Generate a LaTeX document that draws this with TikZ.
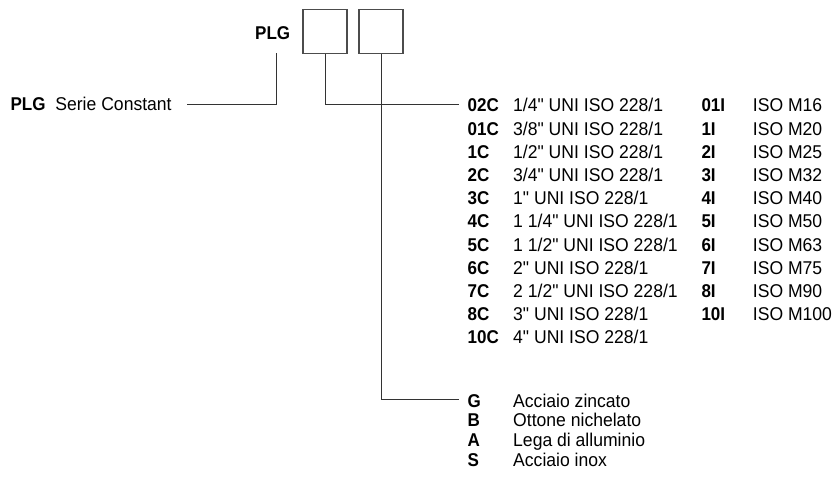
\documentclass[tikz,border=0pt]{standalone}
\usepackage{fontspec}
\setmainfont{Liberation Sans}[Ligatures=TeXOff,FakeStretch=0.95,BoldFeatures={FakeStretch=0.92}]
\newcommand{\qd}{\symbol{34}}
\begin{document}
\begin{tikzpicture}[x=1pt,y=-1pt,
  lab/.style={anchor=base west,inner sep=0pt,font=\fontsize{18.5}{21}\selectfont\bfseries},
  desc/.style={anchor=base west,inner sep=0pt,font=\fontsize{18.5}{21}\selectfont},
  conn/.style={draw=black!80,line width=1pt},
  codebox/.style={draw=black!70,line width=1.2pt,minimum width=44pt,minimum height=43.5pt,inner sep=0pt}]
\useasboundingbox (0,0) rectangle (832,479);
% top code
\node[lab] (plgtop) at (255,39.9) {PLG};
\node[codebox] (b1) at (325,31.5) {};
\node[codebox] (b2) at (381,31.5) {};
% left description
\node[lab] (plgleft) at (10.3,110.9) {PLG};
\node[desc] (serie) at (55.2,110.9) {Serie Constant};
% C list
\foreach \c/\d [count=\i from 0] in {02C/{1/4\qd{} UNI ISO 228/1},01C/{3/8\qd{} UNI ISO 228/1},1C/{1/2\qd{} UNI ISO 228/1},2C/{3/4\qd{} UNI ISO 228/1},3C/{1\qd{} UNI ISO 228/1},4C/{1 1/4\qd{} UNI ISO 228/1},5C/{1 1/2\qd{} UNI ISO 228/1},6C/{2\qd{} UNI ISO 228/1},7C/{2 1/2\qd{} UNI ISO 228/1},8C/{3\qd{} UNI ISO 228/1},10C/{4\qd{} UNI ISO 228/1}}{
  \node[lab] (cl\i) at (467.5,{111.9+23.2*\i}) {\c};
  \node[desc] (cd\i) at (513,{111.9+23.2*\i}) {\d};
}
% I list
\foreach \c/\d [count=\i from 0] in {01I/ISO M16,1I/ISO M20,2I/ISO M25,3I/ISO M32,4I/ISO M40,5I/ISO M50,6I/ISO M63,7I/ISO M75,8I/ISO M90,10I/ISO M100}{
  \node[lab] (il\i) at (701.3,{111.9+23.2*\i}) {\c};
  \node[desc] (id\i) at (752.7,{111.9+23.2*\i}) {\d};
}
% material list
\foreach \c/\d [count=\i from 0] in {G/Acciaio zincato,B/Ottone nichelato,A/Lega di alluminio,S/Acciaio inox}{
  \node[lab] (ml\i) at (467.5,{407.1+19.7*\i}) {\c};
  \node[desc] (md\i) at (513,{407.1+19.7*\i}) {\d};
}
% connectors
\coordinate (p0) at (276.7,53.3);
\coordinate (p0e) at (187,104.3);
\coordinate (p1e) at (459,104.3);
\coordinate (p2e) at (459,399);
\draw[conn] (p0) |- (p0e);
\draw[conn] (b1.south) |- (p1e);
\draw[conn] (b2.south) |- (p2e);
\end{tikzpicture}
\end{document}
